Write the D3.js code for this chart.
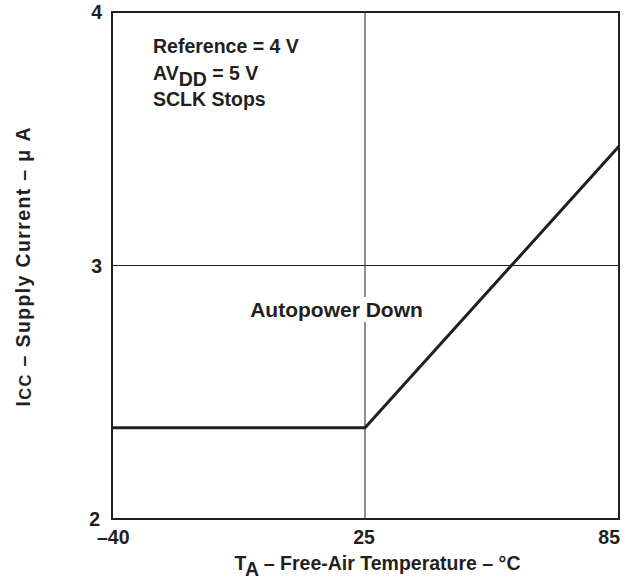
<!DOCTYPE html>
<html>
<head>
<meta charset="utf-8">
<script src="https://cdn.jsdelivr.net/npm/d3@7"></script>
<style>
  body { margin: 0; background: #fff; }
  text { font-family: "Liberation Sans", Arial, sans-serif; font-weight: bold; fill: #231f20; }
</style>
</head>
<body>
<div id="chart"></div>
<script>
// data
let xTicks = [-40, 25, 85]
let yTicks = [2, 3, 4]
let tempC = [-40, 25, 85]
let currentUA = [2.36, 2.36, 3.47]
let notes = ['Reference = 4 V', 'AV|DD| = 5 V', 'SCLK Stops']

let width = 635,
  height = 587,
  plot = { left: 112, right: 619, top: 12, bottom: 519 },
  fontSize = 19.5

// the original axis is not evenly spaced, so map each labelled tick to its place
let x = d3.scaleLinear()
  .domain(xTicks)
  .range([plot.left, 365, plot.right])

let y = d3.scaleLinear()
  .domain([2, 4])
  .range([plot.bottom, plot.top])

let svg = d3.select('#chart').append('svg')
  .attr('width', width)
  .attr('height', height)

// grid
svg.append('g').selectAll('.vgrid')
  .data(xTicks.slice(1, -1))
  .enter().append('line')
  .attr('x1', d => x(d)).attr('x2', d => x(d))
  .attr('y1', plot.top).attr('y2', plot.bottom)
  .attr('stroke', '#231f20').attr('stroke-width', 1)

svg.append('g').selectAll('.hgrid')
  .data(yTicks.slice(1, -1))
  .enter().append('line')
  .attr('x1', plot.left).attr('x2', plot.right)
  .attr('y1', d => y(d)).attr('y2', d => y(d))
  .attr('stroke', '#231f20').attr('stroke-width', 1)

// curve
let pts = tempC.map((t, i) => [t, currentUA[i]])
svg.append('path')
  .datum(pts)
  .attr('d', d3.line().x(d => x(d[0])).y(d => y(d[1])))
  .attr('fill', 'none')
  .attr('stroke', '#231f20')
  .attr('stroke-width', 3)

// frame
svg.append('rect')
  .attr('x', plot.left).attr('y', plot.top)
  .attr('width', plot.right - plot.left)
  .attr('height', plot.bottom - plot.top)
  .attr('fill', 'none')
  .attr('stroke', '#231f20')
  .attr('stroke-width', 2)

// tick labels
svg.append('g').selectAll('.xlab')
  .data(xTicks)
  .enter().append('text')
  .attr('x', d => x(d))
  .attr('y', 544)
  .attr('text-anchor', (d, i) => i === 0 ? 'start' : (i === xTicks.length - 1 ? 'end' : 'middle'))
  .attr('dx', (d, i) => i === 0 ? -15 : (i === xTicks.length - 1 ? 1 : -1))
  .attr('font-size', fontSize + 'px')
  .text(d => d < 0 ? '\u2013' + Math.abs(d) : d)

svg.append('g').selectAll('.ylab')
  .data(yTicks)
  .enter().append('text')
  .attr('x', d => d === 2 ? plot.left - 12 : plot.left - 10)
  .attr('y', d => y(d))
  .attr('dy', '0.36em')
  .attr('text-anchor', 'end')
  .attr('font-size', fontSize + 'px')
  .text(d => d)

// notes in upper-left
let noteG = svg.append('g')
notes.forEach((n, i) => {
  let t = noteG.append('text')
    .attr('x', 153)
    .attr('y', 53 + i * 26.5)
    .attr('font-size', fontSize + 'px')
  n.split('|').forEach((part, j) => {
    t.append('tspan')
      .attr('dy', j === 1 ? 6 : (j === 2 ? -6 : null))
      .text(part)
  })
})

// centre label with a white box, the grid line breaks behind it
let auto = svg.append('g')
let autoText = auto.append('text')
  .attr('x', 336.5)
  .attr('y', 317)
  .attr('text-anchor', 'middle')
  .attr('font-size', '21px')
  .text('Autopower Down')
let bb = autoText.node().getBBox()
auto.insert('rect', 'text')
  .attr('x', bb.x - 4).attr('y', bb.y - 1)
  .attr('width', bb.width + 8).attr('height', bb.height + 2)
  .attr('fill', '#fff')

// x title
let xt = svg.append('text')
  .attr('x', 377.5)
  .attr('y', 570)
  .attr('text-anchor', 'middle')
  .attr('font-size', fontSize + 'px')
xt.append('tspan').text('T')
xt.append('tspan').attr('dy', 6).text('A')
xt.append('tspan').attr('dy', -6).text(' \u2013 Free-Air Temperature \u2013 \u00B0C')

// y title
let yt = svg.append('text')
  .attr('transform', 'translate(30,267) rotate(-90)')
  .attr('text-anchor', 'middle')
  .attr('font-size', fontSize + 'px')
  .attr('textLength', 279)
  .attr('lengthAdjust', 'spacing')
yt.append('tspan').text('I')
yt.append('tspan').attr('font-size', '16.5px').attr('dy', 1).text('CC')
yt.append('tspan').attr('dy', -1).text(' \u2013  Supply Current \u2013 \u03BC A')
</script>
</body>
</html>
